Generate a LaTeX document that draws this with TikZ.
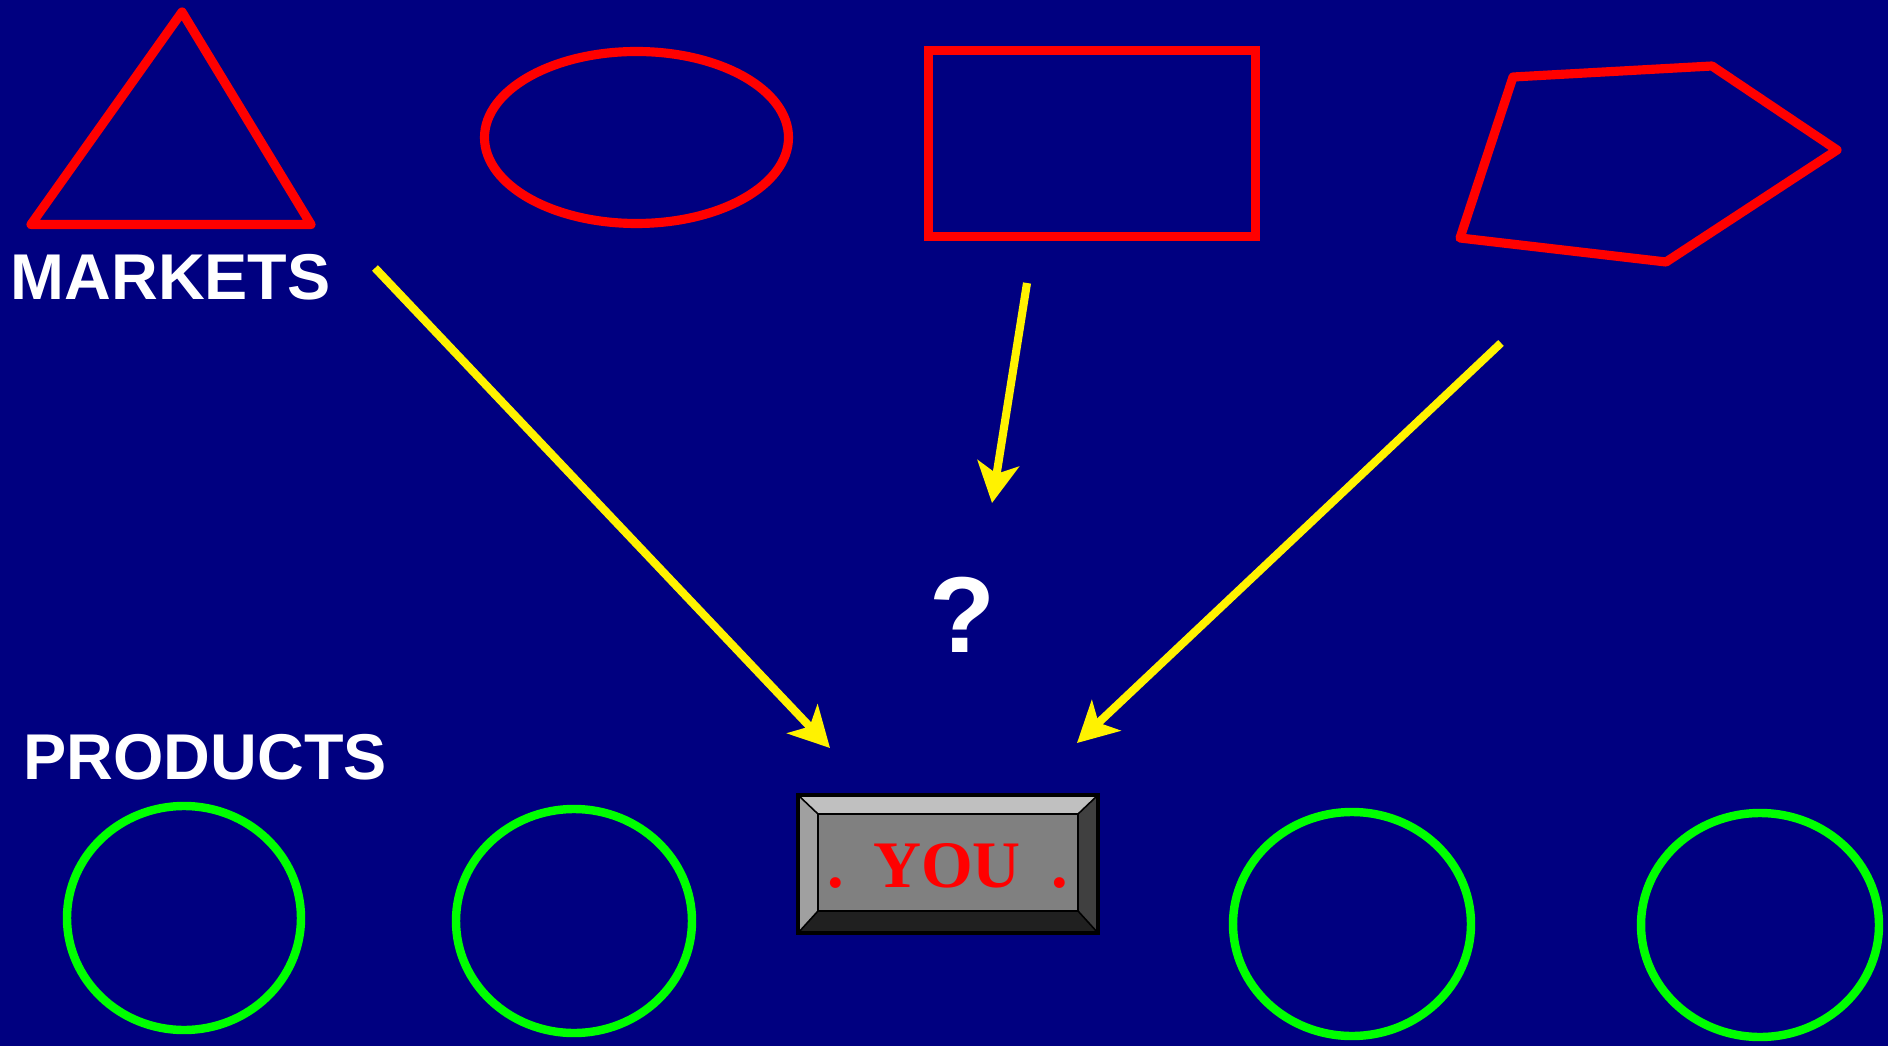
\documentclass[tikz,border=0pt]{standalone}
\usepackage{fontspec}
\setmainfont{Liberation Sans}
\newfontfamily\youfont{Liberation Serif}
\usetikzlibrary{arrows.meta}
\definecolor{navy}{HTML}{000080}
\definecolor{bevtop}{HTML}{C0C0C0}
\definecolor{bevleft}{HTML}{A0A0A0}
\definecolor{bevright}{HTML}{404040}
\definecolor{bevbottom}{HTML}{202020}
\definecolor{bevface}{HTML}{808080}
\tikzset{
  market/.style={draw=red, line width=2.6pt, line join=round},
  product/.style={draw=green, line width=2.4pt},
  pointer/.style={draw=yellow, line width=2.3pt, -{Stealth[length=11.4pt, width=11.9pt, inset=3pt]}},
  heading/.style={text=white, inner sep=0pt, anchor=base west, font=\bfseries\fontsize{18.4}{21}\selectfont},
  youtext/.style={text=red, inner sep=0pt, anchor=base, font=\youfont\bfseries\fontsize{18.9}{21}\selectfont},
  edge line/.style={draw=black, line width=0.45pt}
}
\begin{document}
\begin{tikzpicture}[x=0.01cm, y=-0.01cm]
  \fill[navy] (0,0) rectangle (1888,1046);
  \useasboundingbox (0,0) rectangle (1888,1046);
  % markets
  \draw[market] (182,12) -- (31,224.5) -- (311,224.5) -- cycle;
  \draw[market] (636.5,137.5) ellipse [x radius=152, y radius=86];
  \draw[market, line join=miter] (928.5,50.5) rectangle (1255.5,236.5);
  \draw[market] (1513,77) -- (1712,66) -- (1837,150) -- (1666,262) -- (1460,238) -- cycle;
  \node[heading] (markets) at (10,300) {MARKETS};
  % products
  \node[heading] (products) at (23,779) {PRODUCTS};
  \draw[product] (184,918) ellipse [x radius=117, y radius=112];
  \draw[product] (574,921) ellipse [x radius=118, y radius=112];
  \draw[product] (1352,924) ellipse [x radius=119, y radius=112];
  \draw[product] (1760,925) ellipse [x radius=119, y radius=112];
  % the button
  \path (798,795) coordinate (o1) (1098,795) coordinate (o2) (1098,933) coordinate (o3) (798,933) coordinate (o4);
  \path (818,814) coordinate (i1) (1078,814) coordinate (i2) (1078,911) coordinate (i3) (818,911) coordinate (i4);
  \fill[bevtop] (o1) -- (o2) -- (i2) -- (i1) -- cycle;
  \fill[bevright] (o2) -- (o3) -- (i3) -- (i2) -- cycle;
  \fill[bevbottom] (o3) -- (o4) -- (i4) -- (i3) -- cycle;
  \fill[bevleft] (o4) -- (o1) -- (i1) -- (i4) -- cycle;
  \draw[edge line, fill=bevface] (i1) rectangle (i3);
  \foreach \a in {1,2,3,4} \draw[edge line] (o\a) -- (i\a);
  \draw[edge line, line width=1pt] (o1) rectangle (o3);
  \node[youtext] (you) at (947,887) {YOU};
  \node[youtext] (dotl) at (836,887) {.};
  \node[youtext] (dotr) at (1060,887) {.};
  \node[text=white, inner sep=0pt, anchor=base, font=\bfseries\fontsize{30.7}{34}\selectfont] (query) at (962,652) {?};
  % arrows
  \coordinate (fromleft) at (375,268);
  \coordinate (toleft) at (830,748);
  \coordinate (frommid) at (1027,283);
  \coordinate (tomid) at (992,503);
  \coordinate (fromright) at (1501,343);
  \coordinate (toright) at (1077,743);
  \draw[pointer] (fromleft) -- (toleft);
  \draw[pointer] (frommid) -- (tomid);
  \draw[pointer] (fromright) -- (toright);
\end{tikzpicture}
\end{document}
